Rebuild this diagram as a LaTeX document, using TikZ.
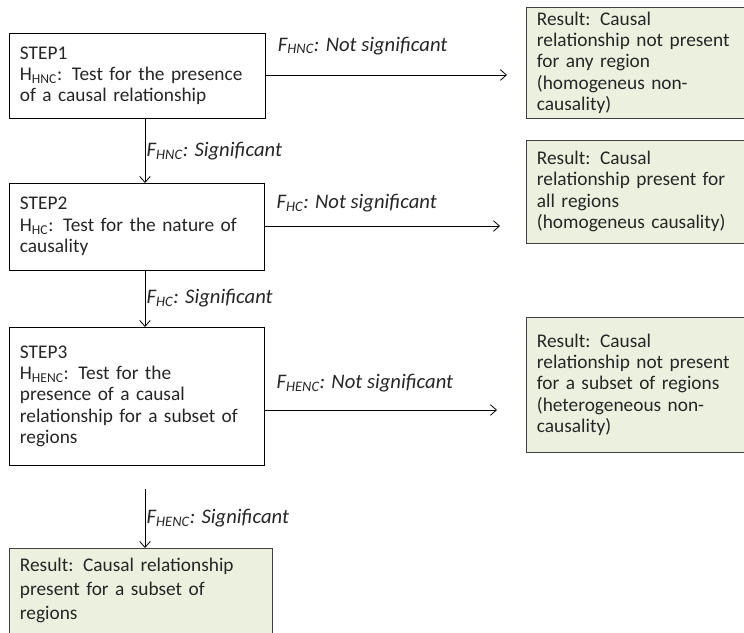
\documentclass[tikz,border=0pt]{standalone}
\usepackage{fontspec}
\setmainfont{Carlito}
\usetikzlibrary{arrows.meta}
\definecolor{resfill}{HTML}{EBF1DE}
\definecolor{txtgrey}{HTML}{262626}

\begin{document}
\begin{tikzpicture}[x=0.75pt, y=-0.75pt,
    stepbox/.style={draw, anchor=north west, align=left, inner xsep=8pt, inner ysep=3pt,
      font=\fontsize{14.5}{16}\selectfont, text=txtgrey},
    resbox/.style={stepbox, fill=resfill, draw=black!75},
    lbl/.style={font=\fontsize{15.5}{16}\selectfont\itshape, text=txtgrey, inner sep=1pt},
    arr/.style={-{Straight Barb[length=4.5pt, width=8pt]}, line width=0.6pt}]
  \useasboundingbox (0,0) rectangle (744,633);
  \clip (0,0) rectangle (744,633);
  \fill[white] (0,0) rectangle (744,633);

  % steps
  \node[stepbox, text width=176pt, minimum height=63.75pt] (s1) at (9,33)
    {STEP1\\H\textsubscript{HNC}: Test for the presence\\of a causal relationship};
  \node[stepbox, text width=175pt, minimum height=65pt] (s2) at (9,183)
    {STEP2\\H\textsubscript{HC}: Test for the nature of\\causality};
  \node[stepbox, text width=175pt, minimum height=103.5pt] (s3) at (9,327)
    {STEP3\\H\textsubscript{HENC}: Test for the\\presence of a causal\\relationship for a subset of\\regions};

  % results
  \node[resbox, text width=170pt, minimum height=83pt] (r1) at (526,7)
    {Result: Causal\\relationship not present\\for any region\\(homogeneus non-\\causality)};
  \node[resbox, text width=170pt, minimum height=77pt] (r2) at (526,140)
    {Result: Causal\\relationship present for\\all regions\\(homogeneus causality)};
  \node[resbox, text width=170pt, minimum height=101pt] (r3) at (526,317)
    {Result: Causal\\relationship not present\\for a subset of regions\\(heterogeneous non-\\causality)};
  \node[resbox, text width=181pt, inner ysep=7pt, font=\fontsize{14.5}{18}\selectfont] (r4) at (9,548)
    {Result: Causal relationship\\present for a subset of\\regions\\\mbox{}};

  \coordinate (e1) at (507,75);
  \coordinate (e2) at (500,226);
  \coordinate (e3) at (497,410);
  \coordinate (dx) at (145,0);
  \coordinate (d3) at (145,489);

  \draw[arr] (s1.east |- e1) -- (e1)
    node[lbl, pos=0, anchor=west, xshift=8pt, yshift=22pt] {F\textsubscript{HNC}: Not significant};
  \draw[arr] (s2.east |- e2) -- (e2)
    node[lbl, pos=0, anchor=west, xshift=8pt, yshift=17pt] {F\textsubscript{HC}: Not significant};
  \draw[arr] (s3.east |- e3) -- (e3)
    node[lbl, pos=0, anchor=west, xshift=8pt, yshift=20pt] {F\textsubscript{HENC}: Not significant};

  \draw[arr] (s1.south -| dx) -- (s2.north -| dx)
    node[lbl, midway, right] {F\textsubscript{HNC}: Significant};
  \draw[arr] (s2.south -| dx) -- (s3.north -| dx)
    node[lbl, midway, right] {F\textsubscript{HC}: Significant};
  \draw[arr] (d3) -- (r4.north -| d3)
    node[lbl, midway, right] {F\textsubscript{HENC}: Significant};
\end{tikzpicture}
\end{document}
